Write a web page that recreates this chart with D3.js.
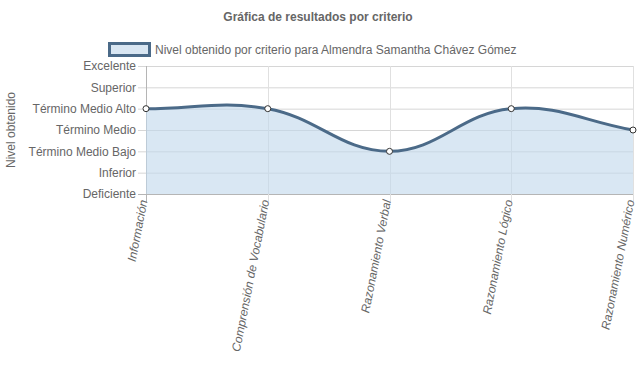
<!DOCTYPE html>
<html>
<head>
<meta charset="utf-8">
<script src="https://cdn.jsdelivr.net/npm/d3@7"></script>
<style>
  body { margin: 0; background: #fff; }
  text { font-family: "Liberation Sans", Arial, Helvetica, sans-serif; fill: #666; }
</style>
</head>
<body>
<svg id="chart" width="637" height="389"></svg>
<script>
// categorias y niveles
const categories = ["Información", "Comprensión de Vocabulario", "Razonamiento Verbal", "Razonamiento Lógico", "Razonamiento Numérico"]
const levels = ["Deficiente", "Inferior", "Término Medio Bajo", "Término Medio", "Término Medio Alto", "Superior", "Excelente"]
const values = [4, 4, 2, 4, 3] // indice dentro de levels
const seriesName = "Nivel obtenido por criterio para Almendra Samantha Chávez Gómez"
const title = "Gráfica de resultados por criterio"

const plot = { left: 146, right: 633, top: 66, bottom: 194 }
const lineColor = "#4b6a88"
const fillColor = "#c2d8ec"

const svg = d3.select("#chart")

const x = d3.scalePoint().domain(categories).range([plot.left, plot.right])
const y = d3.scaleLinear().domain([0, levels.length - 1]).range([plot.bottom, plot.top])

// grid
const grid = svg.append("g")
grid.selectAll("line.h")
    .data(d3.range(levels.length))
    .join("line")
    .attr("x1", plot.left - 8).attr("x2", plot.right)
    .attr("y1", d => y(d) + 0.5).attr("y2", d => y(d) + 0.5)
    .attr("stroke", d => d === 0 ? "#b5b5b5" : "#d6d6d6")
    .attr("stroke-width", 1)
grid.selectAll("line.v")
    .data(categories)
    .join("line")
    .attr("x1", d => Math.round(x(d)) + 0.5).attr("x2", d => Math.round(x(d)) + 0.5)
    .attr("y1", plot.top).attr("y2", plot.bottom + 8)
    .attr("stroke", (d, i) => i === 0 ? "#b5b5b5" : "#e0e0e0")

// curva estilo chart.js (tension 0.4)
const pts = values.map((v, i) => [x(categories[i]), y(v)])
function splinePath(p, t) {
    let cps = p.map((cur, i) => {
        const prev = p[i - 1] || cur, next = p[i + 1] || cur
        const d01 = Math.hypot(cur[0] - prev[0], cur[1] - prev[1])
        const d12 = Math.hypot(next[0] - cur[0], next[1] - cur[1])
        let s01 = d01 / (d01 + d12), s12 = d12 / (d01 + d12)
        if (isNaN(s01)) s01 = 0
        if (isNaN(s12)) s12 = 0
        const fa = t * s01, fb = t * s12
        return {
            prev: [cur[0] - fa * (next[0] - prev[0]), cur[1] - fa * (next[1] - prev[1])],
            next: [cur[0] + fb * (next[0] - prev[0]), cur[1] + fb * (next[1] - prev[1])]
        }
    })
    const path = d3.path()
    path.moveTo(p[0][0], p[0][1])
    for (let i = 1; i < p.length; i++) {
        path.bezierCurveTo(cps[i - 1].next[0], cps[i - 1].next[1], cps[i].prev[0], cps[i].prev[1], p[i][0], p[i][1])
    }
    return path.toString()
}
const linePath = splinePath(pts, 0.4)

svg.append("path")
    .attr("d", linePath + `L${pts[pts.length - 1][0]},${y(0)}L${pts[0][0]},${y(0)}Z`)
    .attr("fill", fillColor)
    .attr("fill-opacity", 0.62)

svg.append("path")
    .attr("d", linePath)
    .attr("fill", "none")
    .attr("stroke", lineColor)
    .attr("stroke-width", 3)

svg.selectAll("circle.pt")
    .data(pts)
    .join("circle")
    .attr("cx", d => d[0]).attr("cy", d => d[1])
    .attr("r", 3)
    .attr("fill", "#fff")
    .attr("stroke", "#333")
    .attr("stroke-width", 1)

// etiquetas eje y
svg.selectAll("text.ylab")
    .data(levels)
    .join("text")
    .attr("x", plot.left - 10)
    .attr("y", (d, i) => y(i))
    .attr("dy", "0.35em")
    .attr("text-anchor", "end")
    .attr("font-size", 12)
    .text(d => d)

svg.append("text")
    .attr("transform", `translate(15,${(plot.top + plot.bottom) / 2}) rotate(-90)`)
    .attr("text-anchor", "middle")
    .attr("font-size", 12)
    .text("Nivel obtenido")

// etiquetas eje x
svg.selectAll("text.xlab")
    .data(categories)
    .join("text")
    .attr("transform", d => `translate(${x(d) - 2},${plot.bottom + 6}) rotate(-79)`)
    .attr("text-anchor", "end")
    .attr("dy", "0.3em")
    .attr("font-size", 12)
    .attr("font-style", "italic")
    .text(d => d)

// titulo
svg.append("text")
    .attr("x", 318).attr("y", 21)
    .attr("text-anchor", "middle")
    .attr("font-size", 12)
    .attr("font-weight", "bold")
    .text(title)

// leyenda
svg.append("rect")
    .attr("x", 109.5).attr("y", 43.5)
    .attr("width", 40).attr("height", 12)
    .attr("fill", "#d9e6f2")
    .attr("stroke", lineColor)
    .attr("stroke-width", 3)
svg.append("text")
    .attr("x", 155).attr("y", 50)
    .attr("dy", "0.35em")
    .attr("font-size", 12)
    .text(seriesName)
</script>
</body>
</html>
